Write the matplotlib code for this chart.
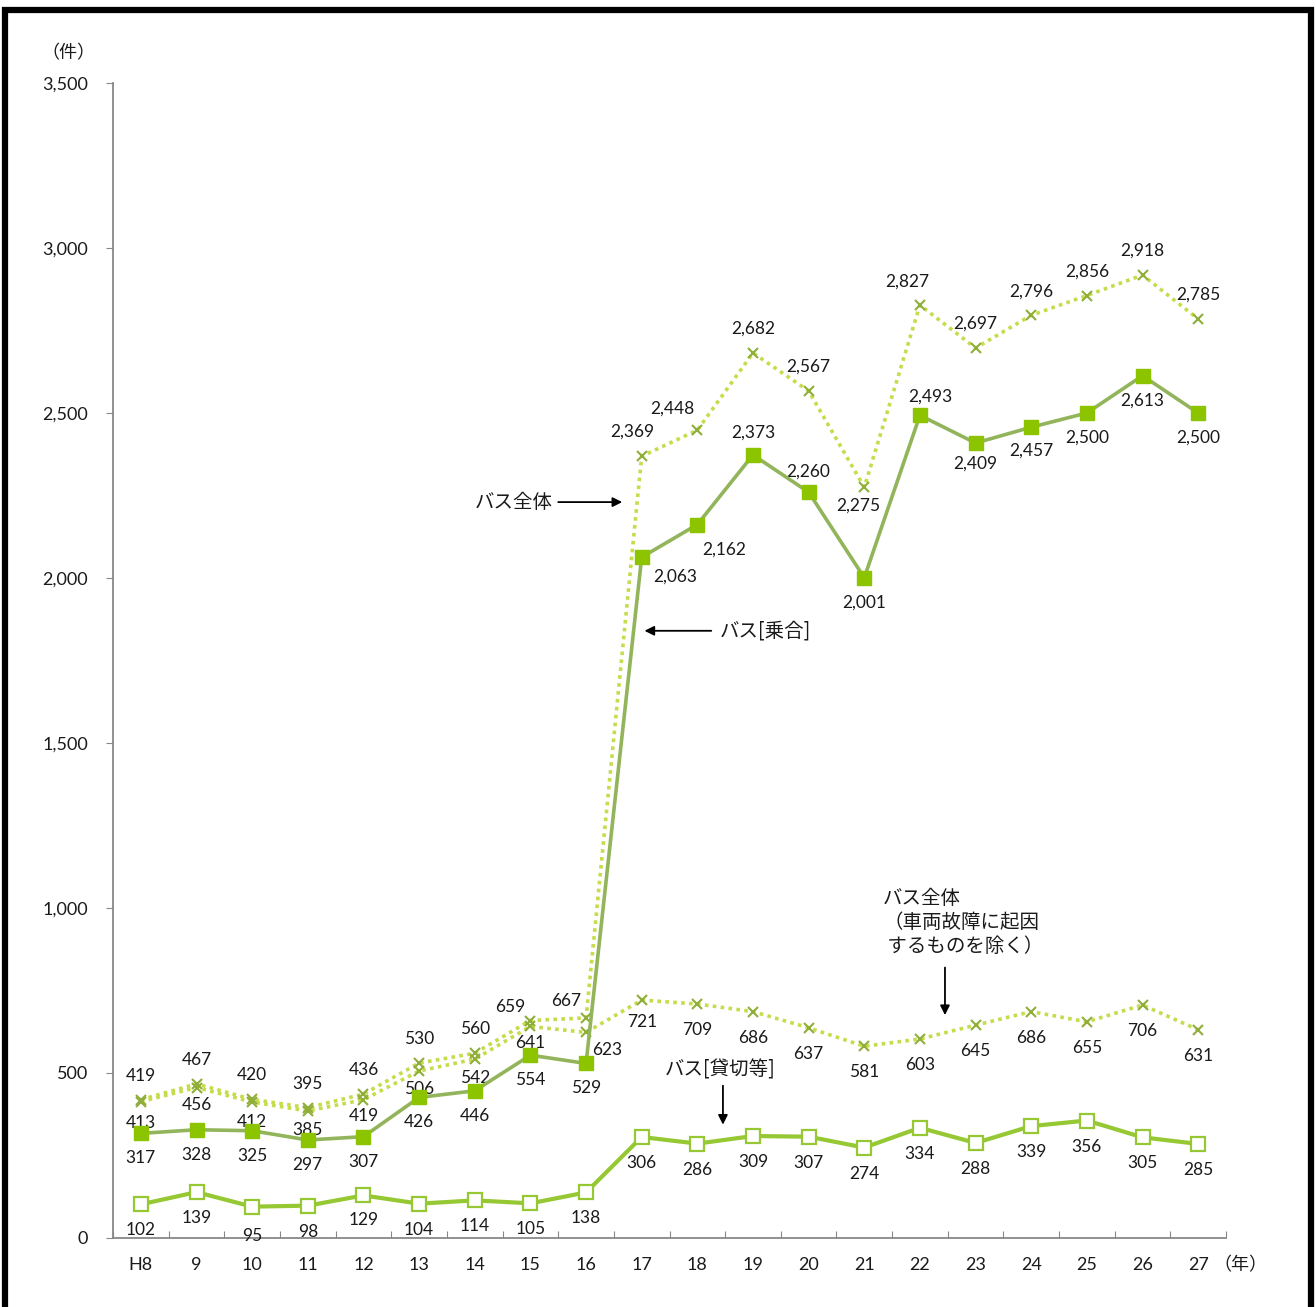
import matplotlib.pyplot as plt
from matplotlib.patches import Rectangle

# data
years = ['H8', '9', '10', '11', '12', '13', '14', '15', '16', '17',
         '18', '19', '20', '21', '22', '23', '24', '25', '26', '27']
bus_all = [419, 467, 420, 395, 436, 530, 560, 659, 667, 2369,
           2448, 2682, 2567, 2275, 2827, 2697, 2796, 2856, 2918, 2785]
bus_all_excl = [413, 456, 412, 385, 419, 506, 542, 641, 623, 721,
                709, 686, 637, 581, 603, 645, 686, 655, 706, 631]
bus_route = [317, 328, 325, 297, 307, 426, 446, 554, 529, 2063,
             2162, 2373, 2260, 2001, 2493, 2409, 2457, 2500, 2613, 2500]
bus_charter = [102, 139, 95, 98, 129, 104, 114, 105, 138, 306,
               286, 309, 307, 274, 334, 288, 339, 356, 305, 285]
yticks = [0, 500, 1000, 1500, 2000, 2500, 3000, 3500]

JP = ['Noto Sans CJK JP', 'DejaVu Sans']
NUM = ['Lato', 'Noto Sans CJK JP', 'DejaVu Sans']
TXT = '#1a1a1a'

DOT_COL = '#c6dc4a'
X_COL = '#8fae3a'
ROUTE_LINE = '#92b45a'
ROUTE_MARK = '#8cc400'
CHARTER_COL = '#95c832'


def label_series(ax, values, default, overrides):
    for i, v in enumerate(values):
        dx, dy = overrides.get(i, default)
        ax.annotate(f'{v:,}', (i, v), xytext=(dx, dy), textcoords='offset pixels',
                    ha='center', va='center', fontsize=12.5, color=TXT, family=NUM)


def main():
    fig = plt.figure(figsize=(13.16, 13.07), dpi=100)
    ax = fig.add_axes([0.0859, 0.0528, 0.8457, 0.8837])
    x = list(range(len(years)))

    ax.plot(x, bus_all, linestyle=(0, (1, 1.2)), color=DOT_COL, lw=2.6, zorder=2)
    ax.plot(x, bus_all, 'x', color=X_COL, ms=7.5, mew=1.5, zorder=3)
    ax.plot(x, bus_all_excl, linestyle=(0, (1, 1.2)), color=DOT_COL, lw=2.6, zorder=2)
    ax.plot(x, bus_all_excl, 'x', color=X_COL, ms=7.5, mew=1.5, zorder=3)
    ax.plot(x, bus_route, '-', color=ROUTE_LINE, lw=2.6, marker='s', ms=9.5,
            mfc=ROUTE_MARK, mec=ROUTE_MARK, zorder=4)
    ax.plot(x, bus_charter, '-', color=CHARTER_COL, lw=3, marker='s', ms=9.5,
            mfc='white', mec=CHARTER_COL, mew=1.6, zorder=4)

    # value labels
    label_series(ax, bus_all, (0, 24),
                 {7: (-20, 14), 8: (-20, 17), 9: (-9, 25), 10: (-25, 22),
                  13: (-6, -18), 14: (-13, 23)})
    label_series(ax, bus_all_excl, (0, -26),
                 {0: (0, -21), 1: (0, -17), 2: (0, -20), 3: (0, -19), 4: (0, -16),
                  5: (0, -18), 6: (0, -19), 7: (0, -17), 8: (21, -18), 9: (0, -22)})
    label_series(ax, bus_route, (0, -25),
                 {9: (34, -19), 10: (27, -25), 11: (0, 22), 12: (0, 21),
                  14: (10, 19), 15: (0, -21), 16: (0, -23)})
    label_series(ax, bus_charter, (0, -26), {2: (0, -29), 4: (0, -25)})

    ax.set_xlim(-0.5, 19.5)
    ax.set_ylim(0, 3500)
    ax.set_yticks(yticks)
    ax.set_yticklabels([f'{t:,}' for t in yticks], fontsize=13, color=TXT, family=NUM)
    ax.set_xticks([i - 0.5 for i in range(len(years) + 1)])
    ax.set_xticklabels([])
    ax.set_xticks(x, minor=True)
    ax.set_xticklabels(years, minor=True, fontsize=13, color=TXT, family=NUM)
    ax.tick_params(axis='x', which='major', direction='in', length=5, color='#888888')
    ax.tick_params(axis='x', which='minor', length=0, pad=14)
    ax.tick_params(axis='y', direction='out', length=5, color='#888888', pad=13)
    for s in ['top', 'right']:
        ax.spines[s].set_visible(False)
    for s in ['left', 'bottom']:
        ax.spines[s].set_color('#888888')
        ax.spines[s].set_linewidth(1.3)

    # unit labels
    fig.text(68 / 1316, 1 - 53 / 1307, '（件）', ha='center', va='center',
             fontsize=13, color=TXT, family=JP)
    fig.text(1240 / 1316, 1 - 1265 / 1307, '（年）', ha='center', va='center',
             fontsize=13, color=TXT, family=JP)

    # annotations with arrows
    arrow = dict(arrowstyle='-|>', color='black', lw=1.3, mutation_scale=14)
    ax.annotate('', xy=(8.7, 2230), xytext=(7.45, 2230), arrowprops=arrow)
    ax.text(7.4, 2230, 'バス全体', ha='right', va='center', fontsize=14, color=TXT, family=JP)
    ax.annotate('', xy=(9.0, 1840), xytext=(10.3, 1840), arrowprops=arrow)
    ax.text(10.4, 1840, 'バス[乗合]', ha='left', va='center', fontsize=14, color=TXT, family=JP)
    ax.text(13.34, 1062, 'バス全体\n（車両故障に起因\n するものを除く）', ha='left', va='top',
            fontsize=14, color=TXT, family=JP, linespacing=1.2)
    ax.annotate('', xy=(14.45, 667), xytext=(14.45, 828), arrowprops=arrow)
    ax.text(10.41, 510, 'バス[貸切等]', ha='center', va='center', fontsize=14, color=TXT, family=JP)
    ax.annotate('', xy=(10.46, 335), xytext=(10.46, 470), arrowprops=arrow)

    # outer frame
    fig.patches.append(Rectangle((5 / 1316, -0.05), 1306 / 1316, 1.05 - 10 / 1307,
                                 transform=fig.transFigure, fill=False,
                                 edgecolor='black', lw=4.5, zorder=10))

    fig.savefig('out.png', dpi=100, facecolor='white')


if __name__ == '__main__':
    main()
